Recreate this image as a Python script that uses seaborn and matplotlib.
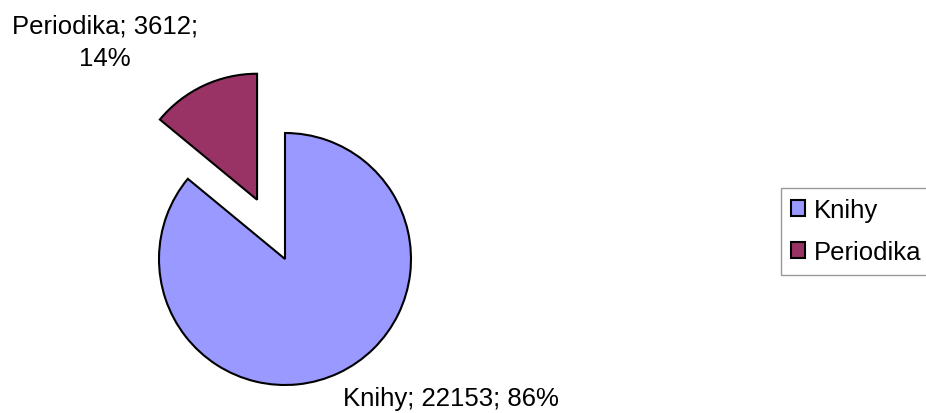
import matplotlib
matplotlib.use('Agg')
import matplotlib.pyplot as plt
import seaborn as sns

# --------------- DATA -----------------
categories = ['Knihy', 'Periodika']
counts = [22153, 3612]
percents = [86, 14]
colors = ['#9999FF', '#993366']
explode = [0, 0.52]

sns.set_theme(style='white')
plt.rcParams['font.family'] = ['Liberation Sans', 'DejaVu Sans']
plt.rcParams['text.color'] = 'black'

palette = sns.color_palette(colors)

fig = plt.figure(figsize=(9.26, 4.14), dpi=100)
ax = fig.add_axes([0, 0, 1, 1])

wedges, _ = ax.pie(counts, colors=palette, explode=explode, startangle=90,
                   counterclock=False,
                   wedgeprops=dict(edgecolor='black', linewidth=1.5))

# pie centre at (285, 260) px from top-left, radius 126 px
r_px = 126
cx, cy = 285, 414 - 260
ax.set_xlim(-cx / r_px, (926 - cx) / r_px)
ax.set_ylim(-cy / r_px, (414 - cy) / r_px)
ax.set_aspect('auto')
ax.axis('off')

# data labels (Excel style)
fs = 18.5
ax.text((451 - cx) / r_px, (414 - 399 - cy) / r_px,
        f'{categories[0]}; {counts[0]}; {percents[0]}%',
        ha='center', va='center', fontsize=fs, color='black')
ax.text((105 - cx) / r_px, (414 - 43 - cy) / r_px,
        f'{categories[1]}; {counts[1]};\n{percents[1]}%',
        ha='center', va='center', fontsize=fs, color='black',
        linespacing=1.45)

leg = fig.legend(wedges, categories, loc='upper left',
                 bbox_to_anchor=(781 / 926, 1 - 189 / 414),
                 fontsize=fs, frameon=True, fancybox=False,
                 handlelength=0.55, handleheight=0.55, handletextpad=0.32,
                 labelspacing=0.7, borderpad=0.4, borderaxespad=0,
                 labelcolor='black')
leg.get_frame().set_edgecolor('#808080')
leg.get_frame().set_linewidth(1)
for h in leg.legend_handles:
    h.set_edgecolor('black')
    h.set_linewidth(1.5)

fig.savefig('out.png', dpi=100)
